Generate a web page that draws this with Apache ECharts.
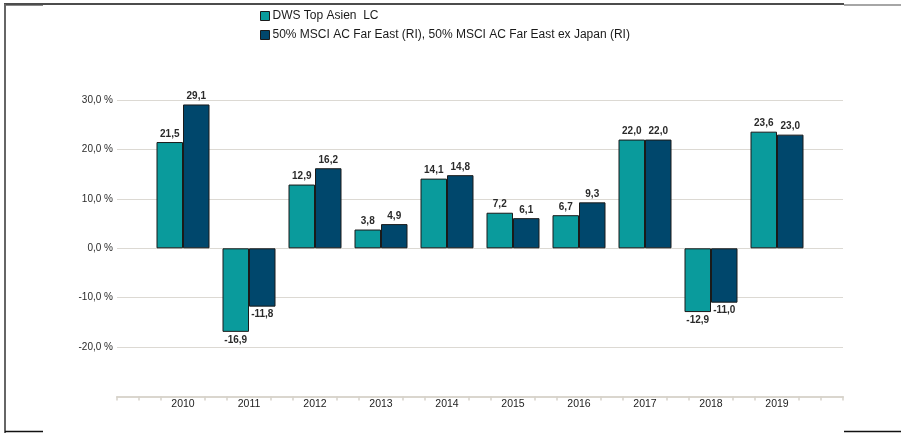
<!DOCTYPE html>
<html>
<head>
<meta charset="utf-8">
<script src="https://cdn.jsdelivr.net/npm/echarts@6/dist/echarts.min.js"></script>
<style>
html,body{margin:0;padding:0;background:#fff;}
#chart{width:901px;height:433px;}
</style>
</head>
<body>
<div id="chart"></div>
<script>
const categories = ['', '2010', '2011', '2012', '2013', '2014', '2015', '2016', '2017', '2018', '2019', ''];
const seriesNames = ['DWS Top Asien  LC', '50% MSCI AC Far East (RI), 50% MSCI AC Far East ex Japan (RI)'];
const fundValues = [null, 21.5, -16.9, 12.9, 3.8, 14.1, 7.2, 6.7, 22.0, -12.9, 23.6, null];
const benchValues = [null, 29.1, -11.8, 16.2, 4.9, 14.8, 6.1, 9.3, 22.0, -11.0, 23.0, null];
const yTicks = [-30, -20, -10, 0, 10, 20, 30, 40];
const colors = ['#0a9b9c', '#00476c'];

const fmt = v => v.toFixed(1).replace('.', ',');
const toData = arr => arr.map(v => v === null ? null : ({
  value: v,
  label: { position: v < 0 ? 'bottom' : 'top' }
}));
const minorTicks = Array.from({ length: (categories.length - 1) * 3 + 1 }, (_, i) => String(i));
const FONT = 'Liberation Sans, Arial, sans-serif';

const chart = echarts.init(document.getElementById('chart'), null, { renderer: 'canvas' });
chart.setOption({
  animation: false,
  backgroundColor: '#fff',
  textStyle: { fontFamily: FONT },
  legend: {
    orient: 'vertical',
    left: 260,
    top: 10,
    padding: 0,
    itemWidth: 9,
    itemHeight: 9,
    itemGap: 7,
    icon: 'rect',
    itemStyle: { borderColor: '#1a1a1a', borderWidth: 1 },
    textStyle: { fontSize: 12, color: '#1a1a1a', fontFamily: FONT, padding: [0, 0, 0, -2] },
    data: seriesNames
  },
  grid: { left: 117, right: 58, top: 50.6, bottom: 36.4, containLabel: false },
  xAxis: [{
    type: 'category',
    data: categories,
    boundaryGap: false,
    axisLine: { show: true, onZero: false, lineStyle: { color: '#dad6ce', width: 2 } },
    axisTick: { show: false },
    splitLine: { show: false },
    axisLabel: { margin: 2, fontSize: 10.5, color: '#222', interval: 0, fontFamily: FONT }
  }, {
    type: 'category',
    position: 'bottom',
    data: minorTicks,
    boundaryGap: false,
    axisLine: { show: false, onZero: false },
    axisLabel: { show: false },
    splitLine: { show: false },
    axisTick: {
      show: true,
      length: 4,
      interval: (i) => (i % 3 !== 0) || i === 0 || i === minorTicks.length - 1,
      lineStyle: { color: '#d6d2ca', width: 1.5 }
    }
  }],
  yAxis: {
    type: 'value',
    min: yTicks[0],
    max: yTicks[yTicks.length - 1],
    interval: 10,
    axisLine: { show: false },
    axisTick: { show: false },
    splitLine: { show: true, showMinLine: false, showMaxLine: false, lineStyle: { color: '#dcd9d3', width: 1.2 } },
    axisLabel: {
      showMinLabel: false,
      showMaxLabel: false,
      margin: 4,
      fontSize: 10,
      color: '#2a2a2a',
      fontFamily: FONT,
      formatter: v => fmt(v) + ' %'
    }
  },
  series: [{
    name: seriesNames[0],
    type: 'bar',
    xAxisIndex: 0,
    barWidth: 26.5,
    barGap: '0%',
    data: toData(fundValues),
    itemStyle: { color: colors[0], borderColor: '#1a1a1a', borderWidth: 1 },
    label: { show: true, distance: 3, fontSize: 10, fontWeight: 'bold', color: '#2a2a2a', fontFamily: FONT, formatter: p => fmt(p.value) }
  }, {
    name: seriesNames[1],
    type: 'bar',
    xAxisIndex: 0,
    barWidth: 26.5,
    barGap: '0%',
    data: toData(benchValues),
    itemStyle: { color: colors[1], borderColor: '#1a1a1a', borderWidth: 1 },
    label: { show: true, distance: 3, fontSize: 10, fontWeight: 'bold', color: '#2a2a2a', fontFamily: FONT, formatter: p => fmt(p.value) }
  }],
  graphic: [
    { type: 'line', shape: { x1: 4, y1: 4, x2: 844, y2: 4 }, style: { stroke: '#111', lineWidth: 1.5 } },
    { type: 'line', shape: { x1: 4, y1: 5.5, x2: 43, y2: 5.5 }, style: { stroke: '#888', lineWidth: 1 } },
    { type: 'line', shape: { x1: 844, y1: 5, x2: 901, y2: 5 }, style: { stroke: '#888', lineWidth: 1.5 } },
    { type: 'line', shape: { x1: 5, y1: 4, x2: 5, y2: 433 }, style: { stroke: '#666', lineWidth: 2 } },
    { type: 'line', shape: { x1: 5, y1: 431.5, x2: 43, y2: 431.5 }, style: { stroke: '#111', lineWidth: 1.5 } },
    { type: 'line', shape: { x1: 844, y1: 431.5, x2: 901, y2: 431.5 }, style: { stroke: '#111', lineWidth: 1.5 } }
  ]
});
</script>
</body>
</html>
